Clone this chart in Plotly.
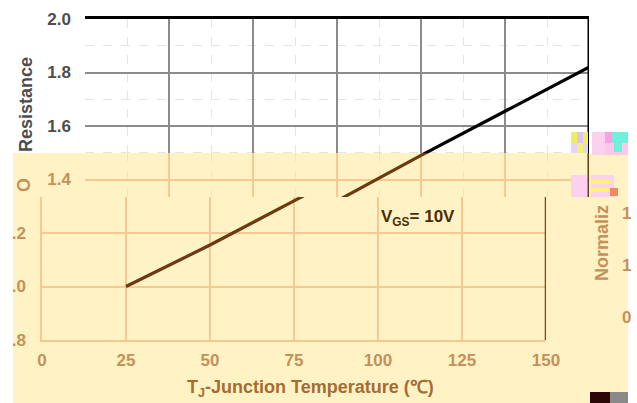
import plotly.graph_objects as go

W, H = 637, 403

# ---- data ----
temps = [25, 50, 75, 100, 125, 150]
rds_norm = [1.0, 1.155, 1.32, 1.49, 1.655, 1.82]
x_ticks = [0, 25, 50, 75, 100, 125, 150]
y_ticks = [0.8, 1.0, 1.2, 1.4, 1.6, 1.8, 2.0]
y_ticktext = ["0.8", "1.0", "1.2", "1.4", "1.6", "1.8", "2.0"]

FONT = "Arial, Liberation Sans, sans-serif"
YEL = "#fff2c4"
ORG = "#f6c892"
ORG_MINOR = "#fbe0b8"
TAN = "#c4915a"
TAN_DARK = "#a36d33"
BROWN = "#6b3a10"
GRAY = "#8c8c8c"
TXT = "#4d4d4d"


def px(x):
    return x / W


def py(y):
    return 1 - y / H


def yv(p):
    # value of the main chart's y scale at pixel row p
    return 2.0 - (p - 19) * 1.2 / 321.0


Y1 = [0.8, 2.0]                 # main chart
Y3 = [yv(197), yv(153)]         # tinted band
Y4 = [0.8, yv(197)]             # shifted lower chart
XMAX = x_ticks[-1]

fig = go.Figure()

# 1: main (white) chart + its right frame edge
fig.add_trace(go.Scatter(x=temps, y=rds_norm, mode="lines", xaxis="x", yaxis="y",
                         line=dict(color="#000000", width=3.2), hoverinfo="skip"))
fig.add_trace(go.Scatter(x=[XMAX, XMAX], y=Y1, mode="lines", xaxis="x", yaxis="y", cliponaxis=False,
                         line=dict(color="#000000", width=3), hoverinfo="skip"))
# 2: yellow overlay (pixel coordinates)
fig.add_trace(go.Scatter(x=[13, 628, 628, 13, 13], y=[153, 153, 403, 403, 153], xaxis="x2", yaxis="y2",
                         mode="lines", fill="toself", fillcolor=YEL, line=dict(width=0), hoverinfo="skip"))
# 3: tinted band copy
fig.add_trace(go.Scatter(x=temps, y=rds_norm, mode="lines", xaxis="x3", yaxis="y3",
                         line=dict(color=BROWN, width=3.2), hoverinfo="skip"))
fig.add_trace(go.Scatter(x=[XMAX, XMAX], y=Y3, mode="lines", xaxis="x3", yaxis="y3", cliponaxis=False,
                         line=dict(color=BROWN, width=3), hoverinfo="skip"))
# 4: shifted lower chart
fig.add_trace(go.Scatter(x=temps, y=rds_norm, mode="lines", xaxis="x4", yaxis="y4",
                         line=dict(color=BROWN, width=3.2), hoverinfo="skip"))
fig.add_trace(go.Scatter(x=[XMAX, XMAX], y=Y4, mode="lines", xaxis="x4", yaxis="y4", cliponaxis=False,
                         line=dict(color="#7a4514", width=2.5), hoverinfo="skip"))
# 5: white strip on the left
fig.add_trace(go.Scatter(x=[0, 13, 13, 0, 0], y=[153, 153, 403, 403, 153], xaxis="x5", yaxis="y5",
                         mode="lines", fill="toself", fillcolor="#ffffff", line=dict(width=0), hoverinfo="skip"))

hidden = dict(visible=False, showgrid=False, zeroline=False, automargin=False)
tickfont_top = dict(family=FONT, size=17, color=TXT, weight="bold")
tickfont_tan = dict(family=FONT, size=17, color=TAN, weight="bold")
NA = dict(automargin=False)

layout = dict(
    width=W, height=H, margin=dict(l=0, r=0, t=0, b=0, pad=0), autosize=False,
    paper_bgcolor="#ffffff", plot_bgcolor="rgba(0,0,0,0)", showlegend=False,
    font=dict(family=FONT),
    # subplot 1
    xaxis=dict(domain=[px(85), px(589)], range=[0, 150], anchor="y", tickvals=x_ticks,
               showticklabels=False, ticks="", showgrid=True, gridcolor=GRAY, gridwidth=2,
               zeroline=False, showline=True, mirror=True, linecolor="#000000", linewidth=3,
               minor=dict(dtick=12.5, tick0=0, showgrid=True, gridcolor="#e4e4e4", griddash="dash", gridwidth=1),
               **NA),
    yaxis=dict(domain=[py(340), py(19)], range=Y1, anchor="x", tickvals=y_ticks, ticktext=y_ticktext,
               ticks="", ticklabelstandoff=13, tickfont=tickfont_top, showgrid=True, gridcolor=GRAY,
               gridwidth=2, zeroline=False, showline=False,
               minor=dict(dtick=0.1, tick0=0.8, showgrid=True, gridcolor="#e4e4e4", griddash="dash", gridwidth=1),
               **NA),
    # subplot 2 (yellow overlay, pixel coordinates)
    xaxis2=dict(domain=[0, 1], range=[0, W], anchor="y2", **hidden),
    yaxis2=dict(domain=[0, 1], range=[H, 0], anchor="x2", **hidden),
    # subplot 3 (tinted band of the main chart)
    xaxis3=dict(domain=[px(85), px(589)], range=[0, 150], anchor="y3", tickvals=x_ticks,
                showticklabels=False, ticks="", showgrid=True, gridcolor=ORG, gridwidth=1.5,
                zeroline=False, showline=False,
                minor=dict(dtick=12.5, tick0=0, showgrid=True, gridcolor=ORG_MINOR, griddash="dash", gridwidth=1),
                **NA),
    yaxis3=dict(domain=[py(197), py(153)], range=Y3, anchor="x3", tickvals=y_ticks,
                ticktext=y_ticktext, ticks="", ticklabelstandoff=13, tickfont=tickfont_tan,
                showgrid=True, gridcolor=ORG, gridwidth=1.5, zeroline=False, showline=False, **NA),
    # subplot 4 (shifted lower chart)
    xaxis4=dict(domain=[px(42), px(546)], range=[0, 150], anchor="y4", tickvals=x_ticks,
                ticks="", ticklabelstandoff=4, tickfont=tickfont_tan, showgrid=True, gridcolor=ORG,
                gridwidth=1.5, zeroline=False, showline=True, linecolor=ORG, linewidth=1.5, **NA),
    yaxis4=dict(domain=[py(340), py(197)], range=Y4, anchor="x4", tickvals=y_ticks,
                ticktext=y_ticktext, ticks="", ticklabelstandoff=11, tickfont=tickfont_tan,
                showgrid=True, gridcolor=ORG, gridwidth=1.5, zeroline=False,
                showline=True, linecolor=ORG, linewidth=1.5, **NA),
    # subplot 5 (white left strip)
    xaxis5=dict(domain=[0, 1], range=[0, W], anchor="y5", **hidden),
    yaxis5=dict(domain=[0, 1], range=[H, 0], anchor="x5", **hidden),
)
fig.update_layout(**layout)

ann = [
    dict(text="<b>Resistance</b>", x=px(26), y=py(104), textangle=-90,
         font=dict(size=18, color=TXT)),
    dict(text="<b>O</b>", x=px(24), y=py(185), textangle=-90,
         font=dict(size=18, color=TAN)),
    dict(text="<b>V<sub>GS</sub>= 10V</b>", x=px(418), y=py(218),
         font=dict(size=17, color="#4a2c08")),
    dict(text="<b>T<sub>J</sub>-Junction Temperature (℃)</b>", x=px(310), y=py(388),
         font=dict(size=18, color=TAN_DARK)),
    dict(text="<b>Normaliz</b>", x=px(602), y=py(243), textangle=-90,
         font=dict(size=18, color=TAN)),
    dict(text="<b>1</b>", x=px(620), y=py(213), xanchor="left", font=dict(size=17, color=TAN)),
    dict(text="<b>1</b>", x=px(620), y=py(265), xanchor="left", font=dict(size=17, color=TAN)),
    dict(text="<b>0</b>", x=px(620), y=py(317), xanchor="left", font=dict(size=17, color=TAN)),
]
for a in ann:
    a.update(xref="paper", yref="paper", showarrow=False, yanchor="middle")
    a.setdefault("xanchor", "center")
    a["font"]["family"] = FONT
fig.update_layout(annotations=ann)


def rect(x0, y0, x1, y1, color):
    fig.add_shape(type="rect", xref="paper", yref="paper", x0=px(x0), x1=px(x1), y0=py(y1), y1=py(y0),
                  fillcolor=color, line=dict(width=0), layer="above")


# scan-glitch blocks
rect(571, 132, 577, 143, "#f2ee5a")
rect(577, 132, 583, 143, "#d9c6f2")
rect(583, 132, 588, 143, "#f2ee5a")
rect(571, 143, 588, 153, "#e6d4f6")
rect(577, 143, 583, 153, "#f4f070")
rect(592, 132, 605, 155, "#fbd2ee")
rect(605, 132, 612, 143, "#ff9ee0")
rect(612, 132, 628, 143, "#6ff0dc")
rect(605, 143, 628, 155, "#f9c8ec")
rect(614, 143, 622, 152, "#6ff0dc")
rect(571, 175, 587, 197, "#fbd0f0")
rect(591, 175, 614, 197, "#fbd0f0")
rect(591, 180, 612, 184, "#fff176")
rect(591, 188, 610, 192, "#fff176")
rect(610, 188, 618, 196, "#f08a60")
rect(590, 392, 610, 403, "#2b0707")
rect(610, 392, 628, 403, "#8a8a8a")

fig.write_html("out.html", config={"displayModeBar": False},
               post_script="document.body.style.margin='0';document.body.style.padding='0';"
                           "document.body.style.overflow='hidden';")
